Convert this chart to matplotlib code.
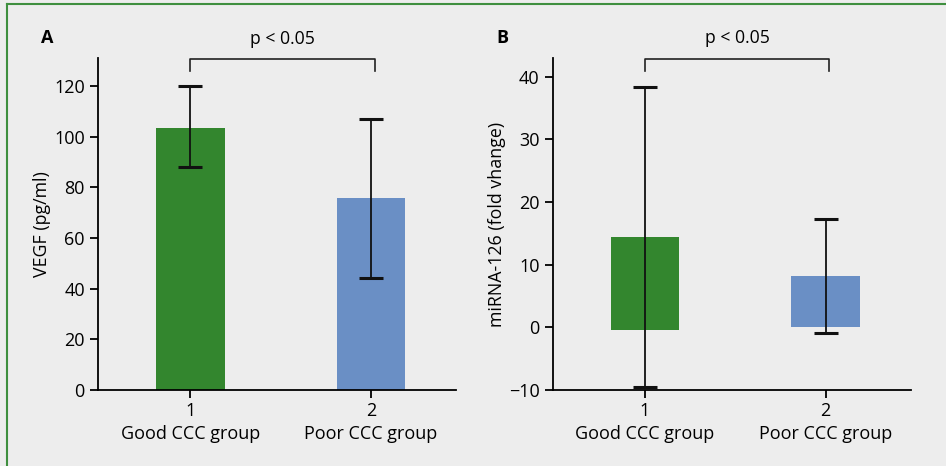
import matplotlib
matplotlib.use('Agg')
import matplotlib.pyplot as plt
from matplotlib.lines import Line2D

# data
groups = ['1\nGood CCC group', '2\nPoor CCC group']
vegf_mean = [103.4, 75.8]
vegf_err_low = [15.6, 31.5]
vegf_err_high = [16.4, 31.3]

mir_top = [14.5, 8.2]
mir_bottom = [-0.5, 0.0]
mir_err_low = [-9.5, -0.9]
mir_err_high = [38.3, 17.3]

colors = ['#33862e', '#6a8fc5']
bg = '#ededed'

plt.rcParams['font.family'] = ['Open Sans', 'DejaVu Sans']
plt.rcParams['font.size'] = 13

fig = plt.figure(figsize=(9.46, 4.66), dpi=100, facecolor=bg)

# green frame at top and left
fig.add_artist(Line2D([7 / 946, 1], [1 - 4 / 466, 1 - 4 / 466], color='#3f8f3f', lw=1.5))
fig.add_artist(Line2D([7 / 946, 7 / 946], [0, 1 - 4 / 466], color='#3f8f3f', lw=1.5))


def style_ax(ax):
    ax.set_facecolor(bg)
    for s in ['top', 'right']:
        ax.spines[s].set_visible(False)
    for s in ['left', 'bottom']:
        ax.spines[s].set_linewidth(1.3)
    ax.tick_params(width=1.3, length=6, labelsize=13, colors='black')
    ax.tick_params(axis='x', pad=3)
    ax.set_xticks([1, 2])
    ax.set_xticklabels(groups, fontsize=13, linespacing=1.3)
    ax.set_xlim(0.49, 2.47)


def bracket(ax, x1, x2, y, drop):
    ax.plot([x1, x1, x2, x2], [y - drop, y, y, y - drop], color='#222222', lw=1.2, clip_on=False)
    ax.text((x1 + x2) / 2, y + drop * 0.9, 'p < 0.05', ha='center', va='bottom', fontsize=12.7, clip_on=False)


# panel A
ax1 = fig.add_axes([98 / 946, 1 - 390 / 466, (456 - 98) / 946, (390 - 58) / 466])
style_ax(ax1)
x = [1, 2]
ax1.bar(x, vegf_mean, width=0.38, color=colors)
ax1.errorbar(x, vegf_mean, yerr=[vegf_err_low, vegf_err_high], fmt='none', ecolor='#111111',
             elinewidth=1.3, capsize=8.5, capthick=2.2)
ax1.set_ylim(0, 131)
ax1.set_yticks([0, 20, 40, 60, 80, 100, 120])
ax1.set_ylabel('VEGF (pg/ml)', fontsize=12.8, labelpad=2)
bracket(ax1, 1.0, 2.02, 130.5, 4.8)
fig.text(47 / 946, 1 - 38 / 466, 'A', fontsize=13, fontweight='bold', va='center', ha='center')

# panel B
ax2 = fig.add_axes([552.7 / 946, 1 - 390 / 466, (910.7 - 552.7) / 946, (390 - 58) / 466])
style_ax(ax2)
heights = [t - b for t, b in zip(mir_top, mir_bottom)]
ax2.bar(x, heights, bottom=mir_bottom, width=0.38, color=colors)
mid = mir_top
ax2.errorbar(x, mid, yerr=[[m - lo for m, lo in zip(mid, mir_err_low)],
                           [hi - m for m, hi in zip(mid, mir_err_high)]],
             fmt='none', ecolor='#111111', elinewidth=1.3, capsize=8.5, capthick=2.2)
ax2.set_ylim(-10, 43)
ax2.set_yticks([-10, 0, 10, 20, 30, 40])
ax2.set_yticklabels(['\u221210', '0', '10', '20', '30', '40'])
ax2.set_ylabel('miRNA-126 (fold vhange)', fontsize=12.8, labelpad=2)
bracket(ax2, 1.0, 2.02, 42.9, 2.0)
fig.text(502 / 946, 1 - 38 / 466, 'B', fontsize=13, fontweight='bold', va='center', ha='center')

fig.savefig('out.png', dpi=100, facecolor=bg)
plt.close()
